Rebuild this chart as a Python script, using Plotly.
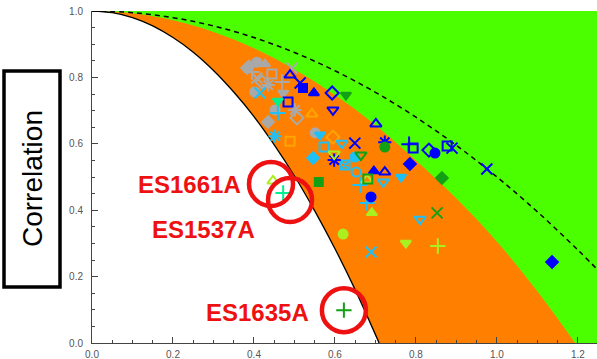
import plotly.graph_objects as go

# ---- skill-region boundaries (x, correlation) ----
INNER_X = [0.0, 0.05, 0.10, 0.15, 0.20, 0.25, 0.30, 0.35, 0.40, 0.45, 0.50, 0.55, 0.60, 0.65, 0.709]
INNER_Y = [1.0, 0.995, 0.980, 0.955, 0.920, 0.876, 0.821, 0.756, 0.682, 0.597, 0.503, 0.398, 0.284, 0.160, 0.0]

OUTER_X = [0.0, 0.1, 0.2, 0.3, 0.4, 0.5, 0.6, 0.7, 0.8, 0.9, 1.0, 1.1, 1.193]
OUTER_Y = [1.0, 0.993, 0.972, 0.937, 0.888, 0.824, 0.747, 0.656, 0.550, 0.435, 0.305, 0.155, 0.0]

REF_X = [0.0, 0.1, 0.2, 0.3, 0.4, 0.5, 0.6, 0.7, 0.8, 0.9, 1.0, 1.1, 1.2, 1.26]
REF_Y = [1.0, 0.995, 0.980, 0.955, 0.920, 0.875, 0.820, 0.755, 0.680, 0.595, 0.500, 0.395, 0.280, 0.206]

# ---- model points, grouped by colour ----
GRAY_X = [0.388, 0.407, 0.427, 0.383, 0.395, 0.407, 0.420, 0.435, 0.444, 0.469, 0.494, 0.402, 0.472, 0.452, 0.501, 0.506, 0.435, 0.551]
GRAY_Y = [0.837, 0.846, 0.840, 0.828, 0.816, 0.798, 0.786, 0.777, 0.810, 0.786, 0.828, 0.756, 0.753, 0.702, 0.702, 0.678, 0.666, 0.633]
GRAY_K = ['^', 'o', '^', 'd', '+', 'x', 'D', '*', 'S', '+', 'x', 'o', 'v', 'o', '*', 'D', 'd', 'o']

BLUE_X = [0.489, 0.514, 0.521, 0.548, 0.593, 0.595, 0.484, 0.649, 0.701, 0.723, 0.783, 0.793, 0.832, 0.847, 0.877, 0.889, 0.975, 0.785, 0.696, 0.723, 0.598, 0.689, 1.136]
BLUE_Y = [0.807, 0.783, 0.768, 0.753, 0.753, 0.702, 0.726, 0.602, 0.660, 0.605, 0.599, 0.587, 0.581, 0.572, 0.593, 0.587, 0.524, 0.539, 0.518, 0.515, 0.551, 0.440, 0.244]
BLUE_K = ['A', 'x', 's', '^', 'D', 'V', 'S', 'x', 'A', '*', '+', 'S', 'D', 'o', 'S', 'x', 'x', 'd', '^', 'A', '*', 'o', 'd']

CYAN_X = [0.415, 0.459, 0.452, 0.563, 0.573, 0.617, 0.546, 0.625, 0.649, 0.652, 0.662, 0.679, 0.763, 0.719, 0.810, 0.689]
CYAN_Y = [0.753, 0.693, 0.623, 0.627, 0.590, 0.602, 0.557, 0.536, 0.560, 0.515, 0.476, 0.422, 0.500, 0.485, 0.373, 0.274]
CYAN_K = ['x', '+', '*', 'v', 'S', 'V', 'd', 'X', 'o', 'O', '+', '+', 'v', 'V', 'V', 'x']

ORANGE_X = [0.489, 0.543, 0.595]
ORANGE_Y = [0.608, 0.690, 0.620]
ORANGE_K = ['S', 'A', 'D']

LIME_X = [0.598, 0.691, 0.620, 0.775, 0.854, 0.447, 0.679]
LIME_Y = [0.569, 0.392, 0.328, 0.301, 0.292, 0.488, 0.491]
LIME_K = ['V', '^', 'o', 'v', '+', 'A', 'A']

GREEN_X = [0.627, 0.560, 0.664, 0.723, 0.681, 0.864, 0.852, 0.622]
GREEN_Y = [0.747, 0.485, 0.566, 0.590, 0.494, 0.497, 0.392, 0.099]
GREEN_K = ['v', 's', 'V', 'o', 'S', 'd', 'x', '+']

SPRING_X = [0.459, 0.472]
SPRING_Y = [0.729, 0.452]
SPRING_K = ['v', '+']

# highlighted stations
HIGHLIGHT_NAMES = ["ES1661A", "ES1537A", "ES1635A"]
HIGHLIGHT_X = [0.447, 0.472, 0.622]
HIGHLIGHT_Y = [0.488, 0.452, 0.099]

X_TICKS = [0.0, 0.2, 0.4, 0.6, 0.8, 1.0, 1.2]
Y_TICKS = [0.0, 0.2, 0.4, 0.6, 0.8, 1.0]

# ---- styling ----
SYMBOLS = {
    'o': 'circle', '^': 'triangle-up', 'v': 'triangle-down', 's': 'square', 'd': 'diamond',
    'O': 'circle-open', 'A': 'triangle-up-open', 'V': 'triangle-down-open',
    'S': 'square-open', 'D': 'diamond-open', '+': 'cross-thin-open',
    'x': 'x-thin-open', '*': 'asterisk-open', 'X': 'square-x-open',
}
SIZES = {'o': 9, '^': 9, 'v': 9, 's': 8, 'd': 9, 'O': 9, 'A': 10, 'V': 10,
         'S': 9, 'D': 10, '+': 11, 'x': 11, '*': 11, 'X': 9}

W, H = 597, 359
L, R, T, B = 92, 0, 11, 16
X_MAX = 1.247

fig = go.Figure()

# orange band under the outer boundary
fig.add_trace(go.Scatter(x=OUTER_X, y=OUTER_Y, mode='lines', line=dict(width=0, shape='spline'),
                         fill='tozeroy', fillcolor='#ff7f00', hoverinfo='skip'))
# white area under the inner boundary, edged in black
fig.add_trace(go.Scatter(x=INNER_X, y=INNER_Y, mode='lines', line=dict(color='black', width=1.3, shape='spline'),
                         fill='tozeroy', fillcolor='white', hoverinfo='skip'))
# dashed reference curve
fig.add_trace(go.Scatter(x=REF_X, y=REF_Y, mode='lines',
                         line=dict(color='black', width=1.5, dash='5px,4px', shape='spline'), hoverinfo='skip'))

groups = [
    (GRAY_X, GRAY_Y, GRAY_K, '#a9a9a9'),
    (ORANGE_X, ORANGE_Y, ORANGE_K, '#ffa500'),
    (CYAN_X, CYAN_Y, CYAN_K, '#1ec0f5'),
    (BLUE_X, BLUE_Y, BLUE_K, '#0000ff'),
    (LIME_X, LIME_Y, LIME_K, '#aaf020'),
    (GREEN_X, GREEN_Y, GREEN_K, '#14a014'),
    (SPRING_X, SPRING_Y, SPRING_K, '#00f090'),
]
for gx, gy, gk, col in groups:
    fig.add_trace(go.Scatter(
        x=gx, y=gy, mode='markers',
        marker=dict(symbol=[SYMBOLS[k] for k in gk], size=[SIZES[k] for k in gk],
                    color=col, opacity=1, line=dict(color=col, width=2)),
        hoverinfo='skip'))

# red rings and labels around the highlighted stations
ring_offsets = [(-0.005, -0.009), (0.017, -0.021), (0.0, 0.0)]
label_pos = [(0.372, 0.476), (0.407, 0.343), (0.540, 0.093)]
rx, ry = 22 / 405, 22 / 332
for name, px, py, (ox, oy), (lx, ly) in zip(HIGHLIGHT_NAMES, HIGHLIGHT_X, HIGHLIGHT_Y, ring_offsets, label_pos):
    cx, cy = px + ox, py + oy
    fig.add_shape(type='circle', xref='x', yref='y', x0=cx - rx, x1=cx + rx, y0=cy - ry, y1=cy + ry,
                  line=dict(color='#ee1111', width=4.5), layer='above')
    fig.add_annotation(x=lx, y=ly, xref='x', yref='y', text=name, showarrow=False,
                       xanchor='right', yanchor='middle',
                       font=dict(family='Liberation Sans, Arial, sans-serif', size=24, color='#ee1111', weight='bold'))

# boxed axis title
pw, ph = W - L - R, H - T - B
def px_to_paper_x(p):
    return (p - L) / pw
def px_to_paper_y(p):
    return (H - B - p) / ph

fig.add_shape(type='rect', xref='paper', yref='paper',
              x0=px_to_paper_x(4), x1=px_to_paper_x(60), y0=px_to_paper_y(287), y1=px_to_paper_y(71),
              line=dict(color='black', width=3.5), fillcolor='white', layer='above')
fig.add_annotation(x=px_to_paper_x(32), y=px_to_paper_y(179), xref='paper', yref='paper',
                   xanchor='center', yanchor='middle',
                   text='Correlation', textangle=-90, showarrow=False,
                   font=dict(family='Liberation Sans, Arial, sans-serif', size=28, color='black'))

axis_common = dict(showgrid=False, zeroline=False, showline=True, linecolor='#444', linewidth=1,
                   ticks='inside', ticklen=6, tickcolor='#444', tickformat='.1f',
                   tickfont=dict(family='Liberation Sans, Arial, sans-serif', size=10, color='#555'),
                   minor=dict(dtick=0.05, ticks='inside', ticklen=3, tickcolor='#444'))

fig.update_xaxes(range=[0, X_MAX], tickvals=X_TICKS, ticklabelstandoff=2, **axis_common)
fig.update_yaxes(range=[0, 1.0], tickvals=Y_TICKS, ticklabelstandoff=6, **axis_common)

fig.update_layout(width=W, height=H, margin=dict(l=L, r=R, t=T, b=B),
                  plot_bgcolor='#4cff00', paper_bgcolor='white', showlegend=False)

fig.write_html("out.html")
